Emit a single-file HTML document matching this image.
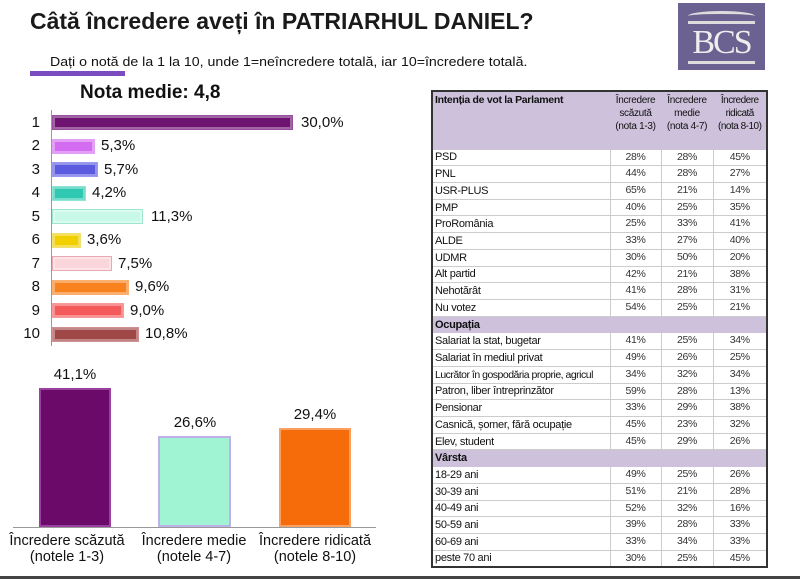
<!DOCTYPE html>
<html><head><meta charset="utf-8"><style>
*{margin:0;padding:0;box-sizing:border-box}
body{width:800px;height:579px;background:#fff;position:relative;overflow:hidden;font-family:"Liberation Sans",sans-serif;color:#111}
.a{position:absolute;white-space:nowrap}
.bar{position:absolute;left:52px;height:15px;border:1px solid;box-shadow:inset 0 0 0 2px rgba(255,255,255,.35)}
.lbl{position:absolute;font-size:15px}
.num{position:absolute;font-size:15px;width:30px;text-align:right;left:10px}
table{position:absolute;left:431px;top:90px;border-collapse:collapse;border:2px solid #333;width:337px;font-size:11px;table-layout:fixed;letter-spacing:-0.3px}
td{border:1px solid #ccc;height:16.72px;padding:0 2px;line-height:14px;vertical-align:middle;white-space:nowrap;overflow:hidden}
td.c{text-align:center;color:#333;font-size:10.5px;vertical-align:top}
tr.h td{background:#cdc1dc;font-weight:bold;border-color:#cdc1dc}
tr.hd td{background:#cdc1dc;height:58px;vertical-align:top;font-size:10px;border-color:#cdc1dc;white-space:normal;line-height:13px;padding-top:2px}
</style></head><body>
<div class="a" style="left:30px;top:8px;font-size:23px;font-weight:bold;color:#1a1a1a">Câtă încredere aveți în PATRIARHUL DANIEL?</div>
<div class="a" style="left:50px;top:54px;font-size:13px;transform:scaleX(1.09);transform-origin:left">Dați o notă de la 1 la 10, unde 1=neîncredere totală, iar 10=încredere totală.</div>
<div class="a" style="left:30px;top:71px;width:95px;height:5px;background:#7b4cc0"></div>
<div class="a" style="left:80px;top:82px;font-size:19px;font-weight:bold">Nota medie: 4,8</div>
<div class="a" style="left:678px;top:3px;width:87px;height:67px;background:#6c6291;color:#eee;font-family:'Liberation Serif',serif;font-size:34px;text-align:center;line-height:80px;letter-spacing:-2px">BCS<div style="position:absolute;left:10px;top:8px;width:67px;height:10px;border-top:3px solid #ddd;border-radius:50% 50% 0 0"></div><div style="position:absolute;left:10px;top:18px;width:67px;height:3px;background:#ddd"></div><div style="position:absolute;left:10px;top:58px;width:67px;height:3px;background:#ddd"></div></div>

<div class="a" style="left:51px;top:110px;width:1px;height:236px;background:#999"></div>
<div class="num" style="top:114px">1</div><div class="bar" style="top:115px;width:241px;background:#6e1470;border-color:#9a4ea0"></div><div class="lbl" style="left:301px;top:114px">30,0%</div>
<div class="num" style="top:137px">2</div><div class="bar" style="top:139px;width:43px;background:#d36cf0;border-color:#e4a0f4"></div><div class="lbl" style="left:101px;top:137px">5,3%</div>
<div class="num" style="top:161px">3</div><div class="bar" style="top:162px;width:46px;background:#5b5be0;border-color:#9a9af0"></div><div class="lbl" style="left:104px;top:161px">5,7%</div>
<div class="num" style="top:184px">4</div><div class="bar" style="top:186px;width:34px;background:#2ec9b0;border-color:#8ee6d6"></div><div class="lbl" style="left:92px;top:184px">4,2%</div>
<div class="num" style="top:208px">5</div><div class="bar" style="top:209px;width:91px;background:#c8f8e8;border-color:#9ee6cf"></div><div class="lbl" style="left:151px;top:208px">11,3%</div>
<div class="num" style="top:231px">6</div><div class="bar" style="top:233px;width:29px;background:#f2d000;border-color:#f0e070"></div><div class="lbl" style="left:87px;top:231px">3,6%</div>
<div class="num" style="top:255px">7</div><div class="bar" style="top:256px;width:60px;background:#fad6da;border-color:#e8aab0"></div><div class="lbl" style="left:118px;top:255px">7,5%</div>
<div class="num" style="top:278px">8</div><div class="bar" style="top:280px;width:77px;background:#f7821e;border-color:#fbb070"></div><div class="lbl" style="left:135px;top:278px">9,6%</div>
<div class="num" style="top:302px">9</div><div class="bar" style="top:303px;width:72px;background:#f45a5a;border-color:#f89a9a"></div><div class="lbl" style="left:130px;top:302px">9,0%</div>
<div class="num" style="top:325px">10</div><div class="bar" style="top:327px;width:87px;background:#a04848;border-color:#d09090"></div><div class="lbl" style="left:145px;top:325px">10,8%</div>

<div class="a" style="left:13px;top:527px;width:363px;height:1px;background:#999"></div>
<div class="a" style="left:39px;top:388px;width:72px;height:139px;background:#6b0a68;border:2px solid #9a40a0"></div>
<div class="a" style="left:158px;top:436px;width:73px;height:91px;background:#a0f4d4;border:2px solid #c0b0e8"></div>
<div class="a" style="left:279px;top:428px;width:72px;height:99px;background:#f76c0a;border:2px solid #fba060"></div>
<div class="a" style="left:40px;top:366px;width:70px;text-align:center;font-size:15px">41,1%</div>
<div class="a" style="left:160px;top:414px;width:70px;text-align:center;font-size:15px">26,6%</div>
<div class="a" style="left:280px;top:406px;width:70px;text-align:center;font-size:15px">29,4%</div>
<div class="a" style="left:7px;top:533px;width:120px;text-align:center;font-size:14.5px;line-height:16px">Încredere scăzută<br>(notele 1-3)</div>
<div class="a" style="left:134px;top:533px;width:120px;text-align:center;font-size:14.5px;line-height:16px">Încredere medie<br>(notele 4-7)</div>
<div class="a" style="left:255px;top:533px;width:120px;text-align:center;font-size:14.5px;line-height:16px">Încredere ridicată<br>(notele 8-10)</div>
<div class="a" style="left:0;top:576px;width:800px;height:3px;background:#444"></div>

<table>
<colgroup><col style="width:178px"><col style="width:51px"><col style="width:52px"><col style="width:54px"></colgroup>
<tr class="hd"><td style="font-weight:bold;font-size:10.5px;white-space:nowrap">Intenția de vot la Parlament</td><td style="text-align:center">Încredere scăzută (nota 1-3)</td><td style="text-align:center">Încredere medie (nota 4-7)</td><td style="text-align:center;letter-spacing:-0.5px">Încredere ridicată (nota 8-10)</td></tr>
<tr><td>PSD</td><td class="c">28%</td><td class="c">28%</td><td class="c">45%</td></tr>
<tr><td>PNL</td><td class="c">44%</td><td class="c">28%</td><td class="c">27%</td></tr>
<tr><td>USR-PLUS</td><td class="c">65%</td><td class="c">21%</td><td class="c">14%</td></tr>
<tr><td>PMP</td><td class="c">40%</td><td class="c">25%</td><td class="c">35%</td></tr>
<tr><td>ProRomânia</td><td class="c">25%</td><td class="c">33%</td><td class="c">41%</td></tr>
<tr><td>ALDE</td><td class="c">33%</td><td class="c">27%</td><td class="c">40%</td></tr>
<tr><td>UDMR</td><td class="c">30%</td><td class="c">50%</td><td class="c">20%</td></tr>
<tr><td>Alt partid</td><td class="c">42%</td><td class="c">21%</td><td class="c">38%</td></tr>
<tr><td>Nehotărât</td><td class="c">41%</td><td class="c">28%</td><td class="c">31%</td></tr>
<tr><td>Nu votez</td><td class="c">54%</td><td class="c">25%</td><td class="c">21%</td></tr>
<tr class="h"><td>Ocupația</td><td></td><td></td><td></td></tr>
<tr><td>Salariat la stat, bugetar</td><td class="c">41%</td><td class="c">25%</td><td class="c">34%</td></tr>
<tr><td>Salariat în mediul privat</td><td class="c">49%</td><td class="c">26%</td><td class="c">25%</td></tr>
<tr><td style="font-size:10.5px;letter-spacing:-0.5px">Lucrător în gospodăria proprie, agricul</td><td class="c">34%</td><td class="c">32%</td><td class="c">34%</td></tr>
<tr><td>Patron, liber întreprinzător</td><td class="c">59%</td><td class="c">28%</td><td class="c">13%</td></tr>
<tr><td>Pensionar</td><td class="c">33%</td><td class="c">29%</td><td class="c">38%</td></tr>
<tr><td>Casnică, șomer, fără ocupație</td><td class="c">45%</td><td class="c">23%</td><td class="c">32%</td></tr>
<tr><td>Elev, student</td><td class="c">45%</td><td class="c">29%</td><td class="c">26%</td></tr>
<tr class="h"><td>Vârsta</td><td></td><td></td><td></td></tr>
<tr><td>18-29 ani</td><td class="c">49%</td><td class="c">25%</td><td class="c">26%</td></tr>
<tr><td>30-39 ani</td><td class="c">51%</td><td class="c">21%</td><td class="c">28%</td></tr>
<tr><td>40-49 ani</td><td class="c">52%</td><td class="c">32%</td><td class="c">16%</td></tr>
<tr><td>50-59 ani</td><td class="c">39%</td><td class="c">28%</td><td class="c">33%</td></tr>
<tr><td>60-69 ani</td><td class="c">33%</td><td class="c">34%</td><td class="c">33%</td></tr>
<tr><td>peste 70 ani</td><td class="c">30%</td><td class="c">25%</td><td class="c">45%</td></tr>
</table>
</body></html>
